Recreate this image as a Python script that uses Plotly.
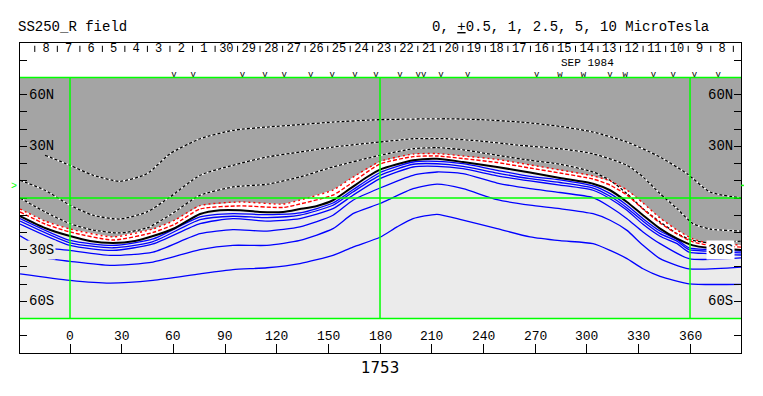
import plotly.graph_objects as go

# ---------------- data ----------------
# neutral line (0 contour)
NL_LON = [-29.0, -14.5, 0, 11.6, 25.0, 37.7, 48.2, 61.0, 75.5, 87.1, 98.7, 110.3, 123.7, 133.5, 143.4, 152.7, 162.6, 172.5, 180, 199.2, 213.1, 228.2, 248.0, 267.1, 284.5, 303.7, 313.6, 323.4, 332.7, 342.6, 352.5, 361.7, 370.5, 389.6]
NL_LAT = [-10.5, -17.4, -22.1, -25.0, -26.1, -25.0, -22.1, -17.4, -9.3, -7.1, -7.1, -8.1, -8.1, -6.4, -4.6, -1.3, 5.4, 12.2, 16.5, 21.9, 22.8, 20.9, 18.0, 14.8, 11.6, 8.3, 4.5, -2.3, -10.0, -17.8, -23.6, -27.5, -28.9, -30.2]

# red (weak positive) contours
R_LON = [-29, -14.5, 0, 25, 48.2, 61.0, 75.5, 98.7, 123.7, 133.5, 152.7, 162.6, 180, 199.2, 213.1, 228.2, 248.0, 267.1, 284.5, 303.7, 313.6, 323.4, 332.7, 342.6, 352.5, 361.7, 370.5, 389.6]
R1_LAT = [-8.1, -15.1, -19.7, -24.4, -20.0, -15.1, -6.4, -4.6, -5.5, -3.5, 1.7, 8.1, 19.7, 24.0, 24.4, 22.9, 20.6, 17.4, 14.5, 11.0, 7.5, 1.7, -6.4, -14.5, -20.9, -25.5, -27.3, -28.5]
R2_LAT = [-6.4, -13.4, -18.0, -22.6, -18.0, -12.8, -4.4, -2.3, -3.5, -1.2, 4.6, 11.0, 21.2, 25.5, 25.8, 24.4, 22.4, 19.2, 16.3, 12.8, 9.9, 4.6, -2.9, -11.6, -18.6, -23.8, -26.1, -27.3]

# negative contours (blue)
B_LON = [-29, 0, 25, 48.2, 75.5, 94.6, 114.4, 133.5, 152.7, 164.3, 180, 199.2, 213.1, 228.2, 248.0, 267.1, 284.5, 303.7, 313.6, 323.4, 332.7, 342.6, 352.5, 359.4, 370.5, 389.6]
B1_LAT = [-11.9, -24.6, -27.5, -23.8, -11.0, -9.1, -9.7, -8.7, -2.9, 4.8, 14.8, 20.9, 21.3, 19.9, 16.1, 12.6, 10.5, 7.0, 2.5, -4.2, -12.0, -19.2, -24.2, -28.9, -30.0, -30.8]
B2_LAT = [-13.4, -26.0, -28.9, -25.3, -12.6, -10.6, -11.4, -10.0, -4.2, 3.5, 13.1, 19.6, 19.9, 18.4, 14.5, 11.2, 9.0, 5.8, 1.0, -5.8, -13.5, -20.7, -25.1, -30.0, -30.9, -31.9]
B3_LAT = [-15.1, -27.5, -30.4, -26.7, -14.9, -12.0, -13.4, -12.0, -6.2, 1.6, 11.3, 18.0, 18.4, 17.0, 12.9, 9.9, 7.5, 4.5, -0.4, -7.1, -15.3, -22.2, -26.5, -31.4, -32.3, -33.1]
B4_LON = [-29, -21.5, -9.9, 0, 23.2, 48.2, 75.5, 94.6, 114.4, 133.5, 152.7, 164.3, 180, 199.2, 213.1, 228.2, 248.0, 267.1, 284.5, 303.7, 313.6, 323.4, 332.7, 342.6, 359.4, 389.6]
B4_LAT = [-21.9, -26.1, -29.4, -30.4, -33.3, -31.4, -20.7, -18.4, -19.2, -16.8, -10.0, -1.3, 5.8, 13.2, 15.1, 14.1, 8.7, 5.4, 3.2, 0.2, -5.2, -12.0, -19.7, -26.5, -35.2, -34.8]
B5_LON = [-12.8, 0, 23.2, 48.2, 75.5, 94.6, 114.4, 133.5, 152.7, 164.3, 180, 199.2, 213.1, 228.2, 248.0, 267.1, 284.5, 303.7, 313.6, 323.4, 332.7, 342.6, 359.4, 389.6]
B5_LAT = [-35.2, -36.8, -39.1, -37.2, -30.0, -27.5, -27.5, -24.6, -17.8, -9.1, -3.2, 5.4, 8.0, 5.4, -1.0, -4.2, -6.2, -9.1, -12.9, -18.8, -27.5, -35.2, -41.1, -40.1]
B6_LON = [-29, 0, 23.2, 48.2, 75.5, 94.6, 114.4, 133.5, 152.7, 164.3, 180, 189.9, 199.2, 213.1, 228.2, 248.0, 267.1, 284.5, 303.7, 313.6, 323.4, 332.7, 342.6, 359.4, 389.6]
B6_LAT = [-44.0, -47.8, -49.4, -47.8, -44.0, -41.6, -40.5, -38.1, -33.3, -28.5, -22.8, -16.8, -12.0, -9.5, -12.9, -17.8, -22.6, -24.8, -26.5, -30.4, -35.2, -41.1, -45.5, -49.8, -50.1]

# positive contours (dotted)
D3_LON = [-14.5, 0, 13.4, 29.0, 44.7, 58.1, 75.5, 94.6, 114.4, 133.5, 152.7, 180, 218.9, 238.1, 261.3, 284.5, 303.7, 323.4, 342.6, 358.3, 371.6, 389.6]
D3_LAT = [24.8, 19.0, 13.2, 9.7, 14.1, 25.7, 34.4, 39.3, 41.2, 42.6, 44.1, 45.5, 46.0, 45.5, 44.1, 41.6, 38.3, 32.5, 23.8, 14.1, 3.5, 0.0]
D2_LON = [-29, -14.5, 0, 13.4, 29.0, 44.7, 58.1, 75.5, 94.6, 114.4, 133.5, 152.7, 180, 199.2, 218.9, 238.1, 261.3, 284.5, 303.7, 323.4, 332.7, 342.6, 352.5, 361.7, 371.6, 389.6]
D2_LAT = [10.3, 4.5, -4.2, -10.0, -12.2, -8.1, 0.6, 13.2, 19.0, 23.8, 26.7, 29.6, 32.5, 34.4, 34.4, 33.1, 30.6, 28.6, 25.7, 19.0, 12.2, 2.5, -6.2, -14.9, -18.0, -19.2]
D1_LON = [-29, -14.5, 0, 13.4, 29.0, 44.7, 58.1, 75.5, 94.6, 114.4, 133.5, 152.7, 180, 199.2, 213.1, 228.2, 248.0, 267.1, 284.5, 303.7, 313.6, 323.4, 332.7, 342.6, 352.5, 361.7, 371.6, 389.6]
D1_LAT = [0, -8.1, -14.9, -18.6, -20.3, -17.4, -9.9, 1.6, 6.4, 8.0, 12.2, 18.0, 24.8, 28.6, 29.2, 28.0, 24.8, 21.9, 19.6, 15.1, 10.3, 2.5, -6.2, -13.9, -20.7, -24.6, -26.1, -25.0]

# axis / annotation content
LON_TICKS = [0, 30, 60, 90, 120, 150, 180, 210, 240, 270, 300, 330, 360]
LAT_TICKS = [-80, -70, -60, -50, -40, -30, -20, -10, 0, 10, 20, 30, 40, 50, 60, 70, 80]
LAT_LABEL_VALS = [60, 30, -30, -60]
LAT_LABELS = ["60N", "30N", "30S", "60S"]
DAY_LABELS = ["8", "7", "6", "5", "4", "3", "2", "1", "30", "29", "28", "27", "26", "25", "24",
              "23", "22", "21", "20", "19", "18", "17", "16", "15", "14", "13", "12", "11", "10", "9", "8"]
DAY_LON = [-13.9, -0.8, 12.3, 25.3, 38.4, 51.5, 64.6, 77.7, 90.8, 103.8, 116.9, 130.0, 143.1, 156.2, 169.2,
           182.3, 195.4, 208.5, 221.6, 234.6, 247.7, 260.8, 273.9, 287.0, 300.0, 313.1, 326.2, 339.3, 352.4, 365.5, 378.6]
OBS_LON = [60.4, 71.6, 100.1, 113.2, 124.3, 139.8, 152.3, 165.5, 177.7, 191.6, 203.8, 215.4, 230.9,
           271.0, 284.5, 298.1, 313.5, 322.3, 338.7, 350.3, 362.5, 376.4]
OBS_SYM = ["v"] * 10 + ["vv", "v", "v", "v", "w", "w", "v", "w", "v", "v", "v", "v"]
B0_LAT = 6.8
GRID_LONS = [0, 180, 360]
GRID_LATS = [-70, 0, 70]

XR = [-29.03, 389.6]
FONT = "Liberation Mono"
DARK = "#a4a4a4"
LIGHT = "#ebebeb"
GREEN = "#00ff00"
BLUE = "#0000ff"

fig = go.Figure()

# white band (between outer red contour and neutral line) and negative region fill
fig.add_trace(go.Scatter(x=R_LON + [XR[1] + 5, XR[0] - 5], y=R2_LAT + [-70, -70],
                         fill="toself", fillcolor="white", mode="lines", line=dict(width=0),
                         hoverinfo="skip", showlegend=False))
fig.add_trace(go.Scatter(x=NL_LON + [XR[1] + 5, XR[0] - 5], y=NL_LAT + [-70, -70],
                         fill="toself", fillcolor=LIGHT, mode="lines", line=dict(width=0),
                         hoverinfo="skip", showlegend=False))

sp = dict(shape="spline", smoothing=0.6)
for lon, lat in [(B_LON, B1_LAT), (B_LON, B2_LAT), (B_LON, B3_LAT), (B4_LON, B4_LAT),
                 (B5_LON, B5_LAT), (B6_LON, B6_LAT)]:
    fig.add_trace(go.Scatter(x=lon, y=lat, mode="lines", line=dict(color=BLUE, width=1.3, **sp),
                             hoverinfo="skip", showlegend=False))

for lon, lat in [(D1_LON, D1_LAT), (D2_LON, D2_LAT), (D3_LON, D3_LAT)]:
    fig.add_trace(go.Scatter(x=lon, y=lat, mode="lines", line=dict(color="white", width=1.3, **sp),
                             hoverinfo="skip", showlegend=False))
    fig.add_trace(go.Scatter(x=lon, y=lat, mode="lines",
                             line=dict(color="black", width=1.3, dash="3px,2px", **sp),
                             hoverinfo="skip", showlegend=False))

fig.add_trace(go.Scatter(x=R_LON, y=R2_LAT, mode="lines",
                         line=dict(color="red", width=1.4, dash="2px,3px", **sp),
                         hoverinfo="skip", showlegend=False))
fig.add_trace(go.Scatter(x=R_LON, y=R1_LAT, mode="lines",
                         line=dict(color="red", width=1.4, dash="4px,2px", **sp),
                         hoverinfo="skip", showlegend=False))
fig.add_trace(go.Scatter(x=NL_LON, y=NL_LAT, mode="lines", line=dict(color="black", width=2, **sp),
                         hoverinfo="skip", showlegend=False))

# day boundary ticks at top (between day labels)
half = (DAY_LON[1] - DAY_LON[0]) / 2
bounds = [DAY_LON[0] - half] + [(a + b) / 2 for a, b in zip(DAY_LON[:-1], DAY_LON[1:])] + [DAY_LON[-1] + half]
tx, ty = [], []
for b in bounds:
    tx += [b, b, None]
    ty += [88.4, 84.8, None]
fig.add_trace(go.Scatter(x=tx, y=ty, mode="lines", line=dict(color="black", width=1),
                         hoverinfo="skip", showlegend=False))

# day labels
fig.add_trace(go.Scatter(x=DAY_LON, y=[86.6] * len(DAY_LON), mode="text", text=DAY_LABELS,
                         textfont=dict(family=FONT, size=12, color="black"),
                         hoverinfo="skip", showlegend=False))
# observation markers
fig.add_trace(go.Scatter(x=OBS_LON, y=[71.4] * len(OBS_LON), mode="text", text=OBS_SYM,
                         textfont=dict(family=FONT, size=9, color="black"),
                         hoverinfo="skip", showlegend=False))

shapes = [dict(type="rect", xref="x", yref="y", x0=XR[0] - 5, x1=XR[1] + 5, y0=-70, y1=70,
               fillcolor=DARK, line=dict(width=0), layer="below")]
for g in GRID_LATS:
    shapes.append(dict(type="line", xref="x", yref="y", x0=XR[0], x1=XR[1], y0=g, y1=g,
                       line=dict(color=GREEN, width=1.5), layer="above"))
for g in GRID_LONS:
    shapes.append(dict(type="line", xref="x", yref="y", x0=g, x1=g, y0=-70, y1=70,
                       line=dict(color=GREEN, width=1.5), layer="above"))
shapes.append(dict(type="line", xref="paper", yref="y", x0=1.0, x1=1.004, y0=B0_LAT + 0.5, y1=B0_LAT + 0.5,
                   line=dict(color=GREEN, width=1.5)))

ann = []
for v, t in zip(LAT_LABEL_VALS, LAT_LABELS):
    bg_l = LIGHT if v == -30 else None
    bg_r = "white" if v == -30 else None
    ann.append(dict(x=-25.0, y=v, xref="x", yref="y", text=t, showarrow=False, xanchor="left",
                    yanchor="middle", font=dict(family=FONT, size=14, color="black"),
                    bgcolor=bg_l, borderpad=1))
    ann.append(dict(x=386.0, y=v, xref="x", yref="y", text=t, showarrow=False, xanchor="right",
                    yanchor="middle", font=dict(family=FONT, size=14, color="black"),
                    bgcolor=bg_r, borderpad=1))
for v in LON_TICKS:
    ann.append(dict(x=v, y=-80.7, xref="x", yref="y", text=str(v), showarrow=False,
                    xanchor="center", yanchor="middle", font=dict(family=FONT, size=13, color="black")))
ann.append(dict(x=300.5, y=78.5, xref="x", yref="y", text="SEP 1984", showarrow=False,
                font=dict(family=FONT, size=11, color="black")))
ann.append(dict(x=-0.0055, y=1.0516, xref="paper", yref="paper", text="SS250_R field", showarrow=False,
                xanchor="left", yanchor="middle", font=dict(family=FONT, size=14, color="black")))
ann.append(dict(x=0.9584, y=1.0516, xref="paper", yref="paper",
                text="0, <u>+</u>0.5, 1, 2.5, 5, 10 MicroTesla", showarrow=False,
                xanchor="right", yanchor="middle", font=dict(family=FONT, size=14, color="black")))
ann.append(dict(x=0.4993, y=-0.047, xref="paper", yref="paper", text="1753", showarrow=False,
                xanchor="center", yanchor="middle", font=dict(family="DejaVu Sans", size=15, color="black")))
ann.append(dict(x=0, y=B0_LAT, xref="paper", yref="y", text=">", showarrow=False, xanchor="right",
                yanchor="middle", xshift=-1, font=dict(family=FONT, size=10, color=GREEN)))

fig.update_layout(
    width=763, height=396, margin=dict(l=20, r=22, t=43, b=43),
    paper_bgcolor="white", plot_bgcolor="white",
    shapes=shapes, annotations=ann, showlegend=False,
    xaxis=dict(range=XR, showgrid=False, zeroline=False, showline=True, linecolor="black", linewidth=1,
               mirror=True, ticks="inside", tickvals=LON_TICKS, ticklen=9, tickcolor="black",
               showticklabels=False, fixedrange=True),
    yaxis=dict(range=[-90, 90], showgrid=False, zeroline=False, showline=True, linecolor="black", linewidth=1,
               mirror="ticks", ticks="inside", tickvals=LAT_TICKS, ticklen=7, tickcolor="black",
               showticklabels=False, fixedrange=True),
)

fig.write_html("out.html", config={"displayModeBar": False},
               post_script="document.body.style.margin='0';")
